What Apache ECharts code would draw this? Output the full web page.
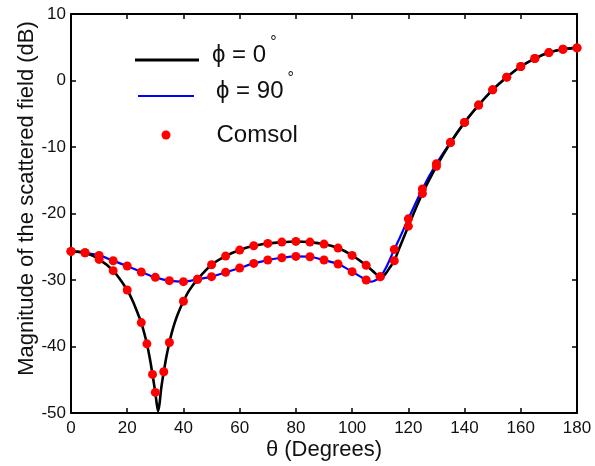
<!DOCTYPE html>
<html>
<head>
<meta charset="utf-8">
<script src="https://cdn.jsdelivr.net/npm/echarts@6/dist/echarts.min.js"></script>
<style>
html,body{margin:0;padding:0;background:#fff;}
#chart{width:595px;height:466px;}
</style>
</head>
<body>
<div id="chart"></div>
<script>
// ---- data ----
const xTicks = [0, 20, 40, 60, 80, 100, 120, 140, 160, 180];
const yTicks = [-50, -40, -30, -20, -10, 0, 10];

// phi = 0 deg analytic curve
const thetaPhi0 = [0, 5, 10, 15, 20, 22, 24, 25, 26, 27, 28, 29, 30, 30.5, 31, 31.5, 32, 32.5, 33, 34, 35, 36, 37, 38, 40, 42, 45, 50, 55, 60, 65, 70, 75, 80, 85, 90, 95, 100, 105, 108, 110, 111, 112, 113, 115, 117, 120, 125, 130, 135, 140, 145, 150, 155, 160, 165, 170, 175, 180];
const magPhi0 = [-25.7, -25.9, -26.9, -28.6, -31.5, -33.2, -35.3, -36.4, -37.9, -39.6, -41.7, -44.2, -47.0, -48.6, -49.7, -48.6, -46.6, -45.1, -43.8, -41.4, -39.4, -37.7, -36.3, -35.1, -33.2, -31.6, -29.9, -27.7, -26.4, -25.5, -24.85, -24.5, -24.3, -24.2, -24.3, -24.6, -25.2, -26.3, -27.8, -28.9, -29.6, -29.5, -29.0, -28.4, -27.1, -25.0, -21.9, -17.0, -12.9, -9.35, -6.3, -3.7, -1.4, 0.5, 2.1, 3.3, 4.2, 4.7, 4.9];

// phi = 90 deg analytic curve
const thetaPhi90 = [0, 5, 10, 15, 20, 25, 30, 35, 40, 45, 50, 55, 60, 65, 70, 75, 80, 85, 90, 95, 100, 103, 105, 106.5, 108, 110, 112, 115, 117, 120, 125, 130, 135, 140, 145, 150, 155, 160, 165, 170, 175, 180];
const magPhi90 = [-25.7, -25.9, -26.3, -27.1, -27.9, -28.8, -29.6, -30.1, -30.25, -29.9, -29.5, -28.85, -28.2, -27.5, -27.0, -26.65, -26.45, -26.5, -27.0, -27.6, -28.75, -29.5, -30.0, -30.25, -30.1, -29.5, -28.2, -25.4, -23.6, -20.8, -16.3, -12.5, -9.3, -6.3, -3.7, -1.4, 0.5, 2.1, 3.3, 4.2, 4.7, 4.9];

// Comsol points
const comsolTheta0 = [0, 5, 10, 15, 20, 25, 27, 29, 30, 33, 35, 40, 45, 50, 55, 60, 65, 70, 75, 80, 85, 90, 95, 100, 105, 110, 115, 120, 125, 130, 135, 140, 145, 150, 155, 160, 165, 170, 175, 180];
const comsolMag0 = [-25.7, -25.9, -26.9, -28.6, -31.5, -36.4, -39.6, -44.2, -46.9, -43.8, -39.4, -33.2, -29.9, -27.7, -26.4, -25.5, -24.85, -24.5, -24.3, -24.2, -24.3, -24.6, -25.2, -26.3, -27.8, -29.5, -27.1, -21.9, -17.0, -12.9, -9.35, -6.3, -3.7, -1.4, 0.5, 2.1, 3.3, 4.2, 4.7, 4.9];
const comsolTheta90 = [0, 5, 10, 15, 20, 25, 30, 35, 40, 45, 50, 55, 60, 65, 70, 75, 80, 85, 90, 95, 100, 105, 110, 115, 120, 125, 130, 135, 140, 145, 150, 155, 160, 165, 170, 175, 180];
const comsolMag90 = [-25.7, -25.9, -26.3, -27.1, -27.9, -28.8, -29.6, -30.1, -30.25, -29.9, -29.5, -28.85, -28.2, -27.5, -27.0, -26.65, -26.45, -26.5, -27.0, -27.6, -28.75, -30.0, -29.5, -25.4, -20.8, -16.3, -12.5, -9.3, -6.3, -3.7, -1.4, 0.5, 2.1, 3.3, 4.2, 4.7, 4.9];

const legendLabels = { phi0: ['ϕ = 0', '°'], phi90: ['ϕ = 90', '°'], Comsol: ['Comsol', ''] };

function pairs(xs, ys) { return xs.map((x, i) => [x, ys[i]]); }

const FONT = "'Liberation Sans', Arial, sans-serif";
const axisCommon = {
  type: 'value',
  axisLine: { show: true, onZero: false, lineStyle: { color: '#000', width: 2 } },
  axisTick: { show: true, inside: true, length: 5, lineStyle: { color: '#000', width: 1.5 } },
  splitLine: { show: false },
  axisLabel: { color: '#111', fontSize: 17, fontFamily: FONT }
};

function legendText(padding) {
  return {
    fontSize: 24, fontFamily: FONT, color: '#111', padding: padding,
    rich: { deg: { fontSize: 16, fontFamily: FONT, color: '#111', padding: [0, 0, 24, 4] } }
  };
}
function legendFmt(name) {
  const l = legendLabels[name];
  return l[1] ? l[0] + '{deg|' + l[1] + '}' : l[0];
}

const chart = echarts.init(document.getElementById('chart'), null, { renderer: 'canvas' });
chart.setOption({
  animation: false,
  backgroundColor: '#fff',
  grid: { left: 71, top: 14, right: 18, bottom: 53, containLabel: false, outerBoundsMode: 'none' },
  legend: [
    { data: [{ name: 'phi0', icon: 'rect' }], orient: 'vertical', left: 135, top: 35, padding: 0,
      itemWidth: 64, itemHeight: 3, formatter: legendFmt, textStyle: legendText([0, 0, 10, 8]) },
    { data: [{ name: 'phi90', icon: 'rect' }], orient: 'vertical', left: 138, top: 71, padding: 0,
      itemWidth: 56, itemHeight: 2, formatter: legendFmt, textStyle: legendText([0, 0, 10, 17]) },
    { data: [{ name: 'Comsol', icon: 'circle' }], orient: 'vertical', left: 161.5, top: 123, padding: 0,
      itemWidth: 9, itemHeight: 9, formatter: legendFmt, textStyle: legendText([0, 0, 0, 41]) }
  ],
  xAxis: [
    Object.assign({}, axisCommon, {
      min: xTicks[0], max: xTicks[xTicks.length - 1], interval: xTicks[1] - xTicks[0],
      position: 'bottom',
      axisLabel: Object.assign({}, axisCommon.axisLabel, { margin: 7 }),
      name: 'θ (Degrees)', nameLocation: 'middle', nameGap: 26, nameMoveOverlap: false,
      nameTextStyle: { fontSize: 22, fontFamily: FONT, color: '#111' }
    }),
    Object.assign({}, axisCommon, {
      min: xTicks[0], max: xTicks[xTicks.length - 1], interval: xTicks[1] - xTicks[0],
      position: 'top', axisLabel: { show: false }
    })
  ],
  yAxis: [
    Object.assign({}, axisCommon, {
      min: yTicks[0], max: yTicks[yTicks.length - 1], interval: yTicks[1] - yTicks[0],
      position: 'left',
      axisLabel: Object.assign({}, axisCommon.axisLabel, { margin: 5 }),
      name: 'Magnitude of the scattered field (dB)', nameLocation: 'middle', nameGap: 33, nameMoveOverlap: false,
      nameTextStyle: { fontSize: 22, fontFamily: FONT, color: '#111', padding: [0, 0, 0, 30] }
    }),
    Object.assign({}, axisCommon, {
      min: yTicks[0], max: yTicks[yTicks.length - 1], interval: yTicks[1] - yTicks[0],
      position: 'right', axisLabel: { show: false }
    })
  ],
  series: [
    { name: 'phi90', type: 'line', xAxisIndex: 0, yAxisIndex: 0, data: pairs(thetaPhi90, magPhi90),
      symbol: 'none', smooth: 0.3, lineStyle: { color: '#0000ff', width: 2.2 }, itemStyle: { color: '#0000ff' }, z: 2 },
    { name: 'phi0', type: 'line', xAxisIndex: 0, yAxisIndex: 0, data: pairs(thetaPhi0, magPhi0),
      symbol: 'none', smooth: 0.3, lineStyle: { color: '#000000', width: 2.6 }, itemStyle: { color: '#000000' }, z: 3 },
    { name: 'Comsol', type: 'scatter', xAxisIndex: 0, yAxisIndex: 0, data: pairs(comsolTheta90, comsolMag90),
      symbol: 'circle', symbolSize: 9, itemStyle: { color: '#ff0000', opacity: 1 }, z: 4 },
    { name: 'Comsol', type: 'scatter', xAxisIndex: 0, yAxisIndex: 0, data: pairs(comsolTheta0, comsolMag0),
      symbol: 'circle', symbolSize: 9, itemStyle: { color: '#ff0000', opacity: 1 }, z: 4 }
  ]
});
</script>
</body>
</html>
